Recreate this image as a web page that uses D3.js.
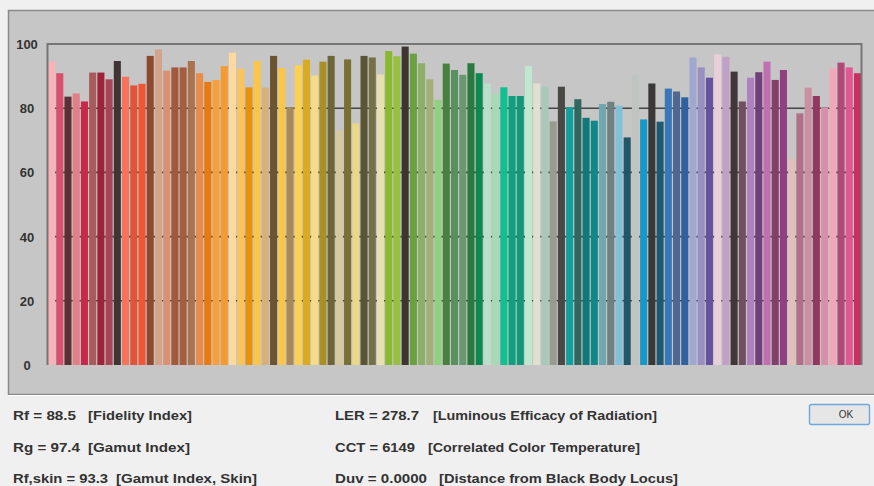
<!DOCTYPE html>
<html>
<head>
<meta charset="utf-8">
<script src="https://cdn.jsdelivr.net/npm/d3@7"></script>
<style>
  html, body { margin: 0; padding: 0; background: #f0f0f0; }
  svg { display: block; }
</style>
</head>
<body>
<script>
// Colour evaluation samples CES 1–99: fidelity per sample
const categories = d3.range(1, 100).map(i => "CES" + String(i).padStart(2, "0"));

const fidelity = [
  94.5, 90.9, 83.6, 84.6, 82.1, 91.1, 91.1, 89.0, 94.7, 89.8,
  87.1, 87.6, 96.3, 98.3, 91.7, 92.7, 92.7, 94.7, 90.9, 88.2,
  88.8, 93.1, 97.3, 92.3, 86.5, 94.7, 86.4, 96.3, 92.5, 80.2,
  93.4, 95.1, 90.2, 94.5, 96.3, 73.0, 95.2, 75.3, 96.3, 95.8,
  90.5, 97.8, 96.2, 99.2, 97.0, 94.0, 89.0, 82.6, 93.9, 91.9,
  90.4, 94.0, 90.9, 87.7, 84.4, 86.5, 83.8, 83.8, 93.1, 87.7,
  86.7, 75.9, 86.7, 80.3, 82.8, 77.0, 76.1, 81.3, 82.0, 80.8,
  70.9, 90.3, 76.5, 87.7, 75.8, 86.1, 85.2, 83.4, 95.8, 92.7,
  89.5, 96.8, 96.0, 91.4, 82.1, 89.5, 91.2, 94.5, 88.8, 91.9,
  64.1, 78.4, 86.4, 83.8, 80.2, 92.4, 94.2, 92.7, 90.9
];

// Approximate sRGB appearance of each sample
const sampleColors = [
  "#f7b3b8", "#d9506e", "#5a3035", "#e07f85", "#c9284a", "#a65c5c", "#a0213a", "#a84555", "#3f3535", "#f7735a",
  "#e0553a", "#f25533", "#8e4a2e", "#d4a48a", "#dc9072", "#a0593a", "#a45e3e", "#a8734e", "#e88c48", "#e87a10",
  "#f5a040", "#f59a30", "#fdd9a0", "#fbc45a", "#e8920a", "#fbc54a", "#d7b07a", "#6b5530", "#fbc548", "#a88a5a",
  "#fdd050", "#d9ab1e", "#f7dc88", "#a89025", "#6b6538", "#d8c8a0", "#7a7035", "#e8d888", "#5a5535", "#757048",
  "#e8e0b0", "#8ab82e", "#98c040", "#3d3530", "#6aa040", "#8cb068", "#a0b078", "#90d080", "#488040", "#5a9060",
  "#6a9870", "#2a7a40", "#0a8a50", "#b8e0c8", "#a8d8b8", "#10c090", "#10a080", "#109878", "#c0e8d0", "#e0e0d0",
  "#a8c8b8", "#989c90", "#4a4845", "#10a0a0", "#306860", "#107878", "#108888", "#70a8b0", "#708080", "#80c0d8",
  "#205868", "#c0c4c0", "#1898c8", "#3a3838", "#205870", "#3878b8", "#506890", "#3060a0", "#a0a8d0", "#9890c0",
  "#6850a0", "#e8d0d8", "#c0a0c8", "#403838", "#705060", "#b080c0", "#704078", "#c070b0", "#804068", "#904080",
  "#e0c0b8", "#b07088", "#c890a0", "#903860", "#d890a8", "#f0a8b8", "#b04878", "#e05890", "#c83060"
];

const yTicks = [0, 20, 40, 60, 80, 100];
const gridTicks = [20, 40, 60, 80];

// Summary metrics shown under the chart
const metricNames = ["Rf", "Rg", "Rf,skin", "LER", "CCT", "Duv"];
const metricValues = ["88.5", "97.4", "93.3", "278.7", "6149", "0.0000"];
const metricNotes = [
  "[Fidelity Index]", "[Gamut Index]", "[Gamut Index, Skin]",
  "[Luminous Efficacy of Radiation]", "[Correlated Color Temperature]", "[Distance  from Black Body Locus]"
];

const W = 874, H = 486;
const plot = { left: 48, right: 861, top: 44, bottom: 365 };

const svg = d3.select("body").append("svg")
  .attr("width", W).attr("height", H);

// dialog background
svg.append("rect").attr("width", W).attr("height", H).attr("fill", "#f0f0f0");

// grey chart panel
svg.append("rect")
  .attr("x", 8.5).attr("y", 10.5).attr("width", W + 4).attr("height", 384)
  .attr("fill", "#c6c6c6").attr("stroke", "#8a8a8a").attr("stroke-width", 1.5);
svg.append("line")
  .attr("x1", 8).attr("x2", W).attr("y1", 395.5).attr("y2", 395.5)
  .attr("stroke", "#ffffff").attr("stroke-width", 1);

const x = d3.scaleBand()
  .domain(categories)
  .range([plot.left, plot.right])
  .paddingInner(0.14)
  .paddingOuter(0);

const y = d3.scaleLinear().domain([0, 100]).range([plot.bottom, plot.top]);

// gridlines behind bars
svg.append("g").selectAll("line").data(gridTicks).join("line")
  .attr("x1", plot.left).attr("x2", plot.right)
  .attr("y1", d => y(d)).attr("y2", d => y(d))
  .attr("stroke", "#454545").attr("stroke-width", 1.6);

// bars
svg.append("g").selectAll("rect").data(fidelity).join("rect")
  .attr("x", (d, i) => x(categories[i]))
  .attr("width", x.bandwidth())
  .attr("y", d => y(d))
  .attr("height", d => y(0) - y(d))
  .attr("fill", (d, i) => sampleColors[i]);

// plot frame: top, left and right edges
svg.append("path")
  .attr("d", `M${plot.left - 0.5},${plot.bottom} V${plot.top} H${plot.right + 0.5} V${plot.bottom}`)
  .attr("fill", "none").attr("stroke", "#767676").attr("stroke-width", 2);

// y-axis labels
const yAxis = d3.axisLeft(y).tickValues(yTicks).tickSize(0).tickPadding(0);
const gy = svg.append("g").attr("transform", "translate(27,0)").call(yAxis);
gy.select(".domain").remove();
gy.selectAll("text")
  .attr("text-anchor", "middle").attr("x", 0).attr("dy", "0.35em")
  .attr("font-family", "Liberation Sans, Arial, sans-serif")
  .attr("font-size", 13).attr("font-weight", "bold").attr("fill", "#333");

// metrics text
const rowsY = [420, 452, 483];
const cols = [
  { x: 13, noteX: [88, 88, 116], valueW: [63, 67, 95], noteW: [104, 102, 141] },
  { x: 335, noteX: [433, 428, 439], valueW: [84, 80, 92], noteW: [224, 212, 239] }
];
const textStyle = sel => sel
  .attr("font-family", "Liberation Sans, Arial, sans-serif")
  .attr("font-size", 12.5).attr("font-weight", "bold").attr("fill", "#333")
  .attr("lengthAdjust", "spacingAndGlyphs");

metricNames.forEach((name, i) => {
  const c = cols[Math.floor(i / 3)], r = i % 3;
  svg.append("text").call(textStyle)
    .attr("x", c.x).attr("y", rowsY[r])
    .attr("textLength", c.valueW[r])
    .text(`${name} = ${metricValues[i]}`);
  svg.append("text").call(textStyle)
    .attr("x", c.noteX[r]).attr("y", rowsY[r])
    .attr("textLength", c.noteW[r])
    .text(metricNotes[i]);
});

// OK button
svg.append("rect")
  .attr("x", 809.5).attr("y", 404.5).attr("width", 60).attr("height", 20).attr("rx", 2)
  .attr("fill", "#e6e6e6").attr("stroke", "#6fa7e0").attr("stroke-width", 1.4);
svg.append("text")
  .attr("x", 846).attr("y", 418)
  .attr("text-anchor", "middle")
  .attr("font-family", "Liberation Sans, Arial, sans-serif")
  .attr("font-size", 10).attr("fill", "#333")
  .text("OK");
</script>
</body>
</html>
